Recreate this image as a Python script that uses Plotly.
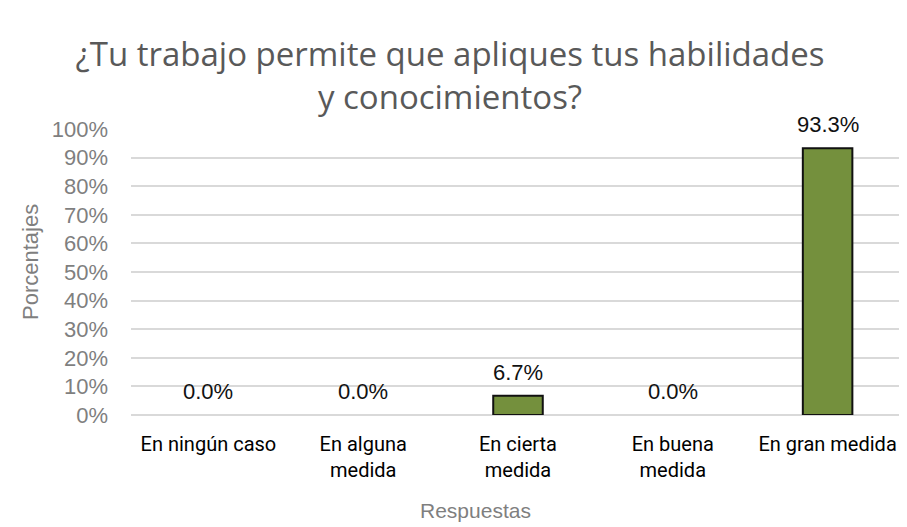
import plotly.graph_objects as go

categories = ["En ningún caso", "En alguna<br>medida", "En cierta<br>medida", "En buena<br>medida", "En gran medida"]
values = [0.0, 0.0, 6.7, 0.0, 93.3]
y_ticks = list(range(0, 101, 10))
y_tick_labels = [f"{v}%" for v in y_ticks]

# the page body adds an 8px offset, so the figure is sized to fit the window
OFF = 8
W, H = 907 - OFF, 527 - OFF
L, R, T, B = 131 - OFF, 2, 129 - OFF, 112
plot_h = H - T - B
plot_w = W - L - R

fig = go.Figure()
fig.add_trace(go.Bar(
    x=categories,
    y=values,
    width=0.32,
    marker=dict(color="#74903D",
                line=dict(color="#111111", width=[2 if v > 0 else 0 for v in values])),
    hoverinfo="skip",
))

# value labels above bars
for c, v in zip(categories, values):
    fig.add_annotation(
        x=c, y=v, xref="x", yref="y", text=f"{v:.1f}%",
        showarrow=False, yanchor="bottom", yshift=9,
        font=dict(family="Liberation Sans, Arial", size=22, color="#111111"),
    )

# axis titles
fig.add_annotation(
    text="Porcentajes", xref="paper", yref="paper",
    x=(30 - OFF - L) / plot_w, y=(H - B - (262 - OFF)) / plot_h, textangle=-90, showarrow=False,
    xanchor="center", yanchor="middle",
    font=dict(family="Liberation Sans, Arial", size=22, color="#7F7F7F"),
)
fig.add_annotation(
    text="Respuestas", xref="paper", yref="paper",
    x=(475 - OFF - L) / plot_w, y=-(510 - OFF - (H - B)) / plot_h, showarrow=False,
    xanchor="center", yanchor="middle",
    font=dict(family="Liberation Sans, Arial", size=21, color="#7F7F7F"),
)

fig.update_layout(
    width=W, height=H,
    paper_bgcolor="white", plot_bgcolor="white",
    margin=dict(l=L, r=R, t=T, b=B),
    title=dict(
        text="¿Tu trabajo permite que apliques tus habilidades<br>y conocimientos?",
        x=(450 - OFF) / W, xanchor="center", xref="container",
        y=1 - (66 - OFF) / H, yanchor="middle", yref="container",
        font=dict(family="Open Sans", size=33, color="#595959"),
    ),
    showlegend=False,
)
fig.update_yaxes(
    range=[0, 100], tickvals=y_ticks, ticktext=y_tick_labels,
    showgrid=True, gridcolor="#D9D9D9", gridwidth=1.5,
    zeroline=True, zerolinecolor="#D9D9D9", zerolinewidth=1.5,
    tickfont=dict(family="Liberation Sans, Arial", size=22, color="#7F7F7F"),
    ticks="", ticklabelstandoff=22, automargin=False,
)
fig.update_xaxes(
    tickfont=dict(family="Roboto", size=20, color="#000000"),
    ticks="", showline=False, ticklabelstandoff=15, automargin=False,
)

fig.write_html("out.html")
